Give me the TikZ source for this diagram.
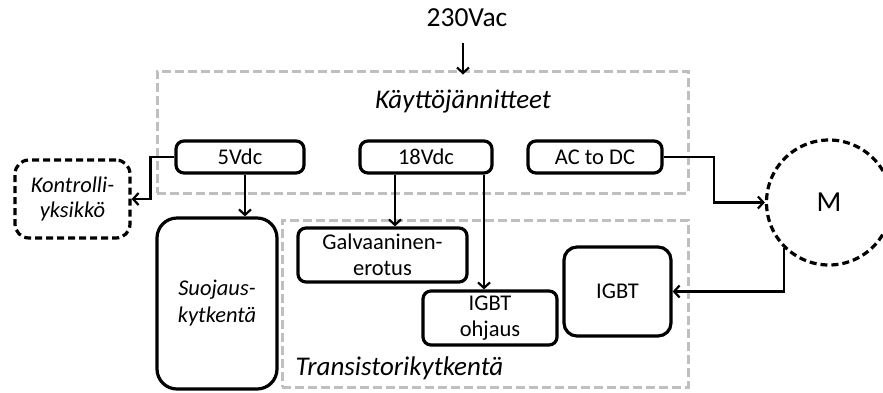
\documentclass[tikz,border=0pt]{standalone}
\usepackage{fontspec}
\setmainfont{Carlito}
\usetikzlibrary{arrows.meta}

\begin{document}
\begin{tikzpicture}[x=1pt, y=-1pt, >={Straight Barb[length=5.5pt,width=12pt]},
    laatikko/.style={draw, line width=3.2pt, rounded corners=8pt, align=center, inner sep=2pt, font=\fontsize{22.5}{26}\selectfont},
    ryhma/.style={draw=black!25, line width=3pt, dash pattern=on 9pt off 4pt},
    katko/.style={draw, line width=3.2pt, dash pattern=on 7pt off 4pt, align=center, font=\fontsize{22.5}{25}\selectfont},
    viiva/.style={line width=2.2pt},
    otsikko/.style={font=\fontsize{27}{30}\selectfont\itshape}]
    \useasboundingbox (0,0) rectangle (883,392);
    \clip (0,0) rectangle (883,392);

    % Käyttöjännitteet
    \node[ryhma, minimum width=531pt, minimum height=122pt] (kaytto) at (422.5,132) {};
    \node[otsikko] (kayttoteksti) at (463,102) {Käyttöjännitteet};
    \node[font=\fontsize{27.5}{30}\selectfont] (vac) at (467,18) {230Vac};
    \node[laatikko, minimum width=128pt, minimum height=32pt] (v5) at (240,157) {5Vdc};
    \node[laatikko, minimum width=132pt, minimum height=32pt] (v18) at (426,157) {18Vdc};
    \node[laatikko, minimum width=134pt, minimum height=32pt] (acdc) at (595,157) {AC to DC};

    % Transistorikytkentä
    \node[ryhma, minimum width=406pt, minimum height=167pt] (trans) at (485,303.5) {};
    \node[otsikko, anchor=base west] (transteksti) at (292,375) {Transistorikytkentä};
    \node[laatikko, minimum width=169pt, minimum height=54pt] (galv) at (382.5,255) {Galvaaninen-\\erotus};
    \node[laatikko, minimum width=134pt, minimum height=54pt] (ohj) at (490,318) {IGBT\\ohjaus};
    \node[laatikko, rounded corners=13pt, minimum width=107pt, minimum height=89pt] (igbt) at (617.5,291.5) {IGBT};

    % muut lohkot
    \node[katko, rounded corners=14pt, minimum width=115pt, minimum height=78pt] (kontr) at (72.5,199) {\itshape Kontrolli-\\\itshape yksikkö};
    \node[laatikko, rounded corners=20pt, minimum width=120pt, minimum height=171pt, font=\fontsize{22.5}{27}\selectfont\itshape] (suoj) at (217,303.5) {Suojaus-\\kytkentä};
    \node[katko, circle, minimum size=125pt, font=\fontsize{29}{30}\selectfont] (moottori) at (829,202.5) {M};

    % yhteydet
    \draw[viiva, ->] ([xshift=-4pt, yshift=-12pt]vac.south) -- ([xshift=-4pt, yshift=-5pt]vac.south |- kaytto.north);
    \draw[viiva, ->] (v5.west) -- ++(-24,0) |- (kontr.east);
    \draw[viiva, ->] ([xshift=5pt]v5.south) -- ([xshift=5pt]v5.south |- suoj.north);
    \draw[viiva, ->] ([xshift=-31pt]v18.south) -- ([xshift=-31pt]v18.south |- galv.north);
    \draw[viiva, ->] ([xshift=58pt]v18.south) -- ([xshift=58pt]v18.south |- ohj.north);
    \draw[viiva, ->] (acdc.east) -- ++(50,0) |- (moottori.west);
    \draw[viiva, ->] (moottori.225) |- (igbt.east);
\end{tikzpicture}
\end{document}
